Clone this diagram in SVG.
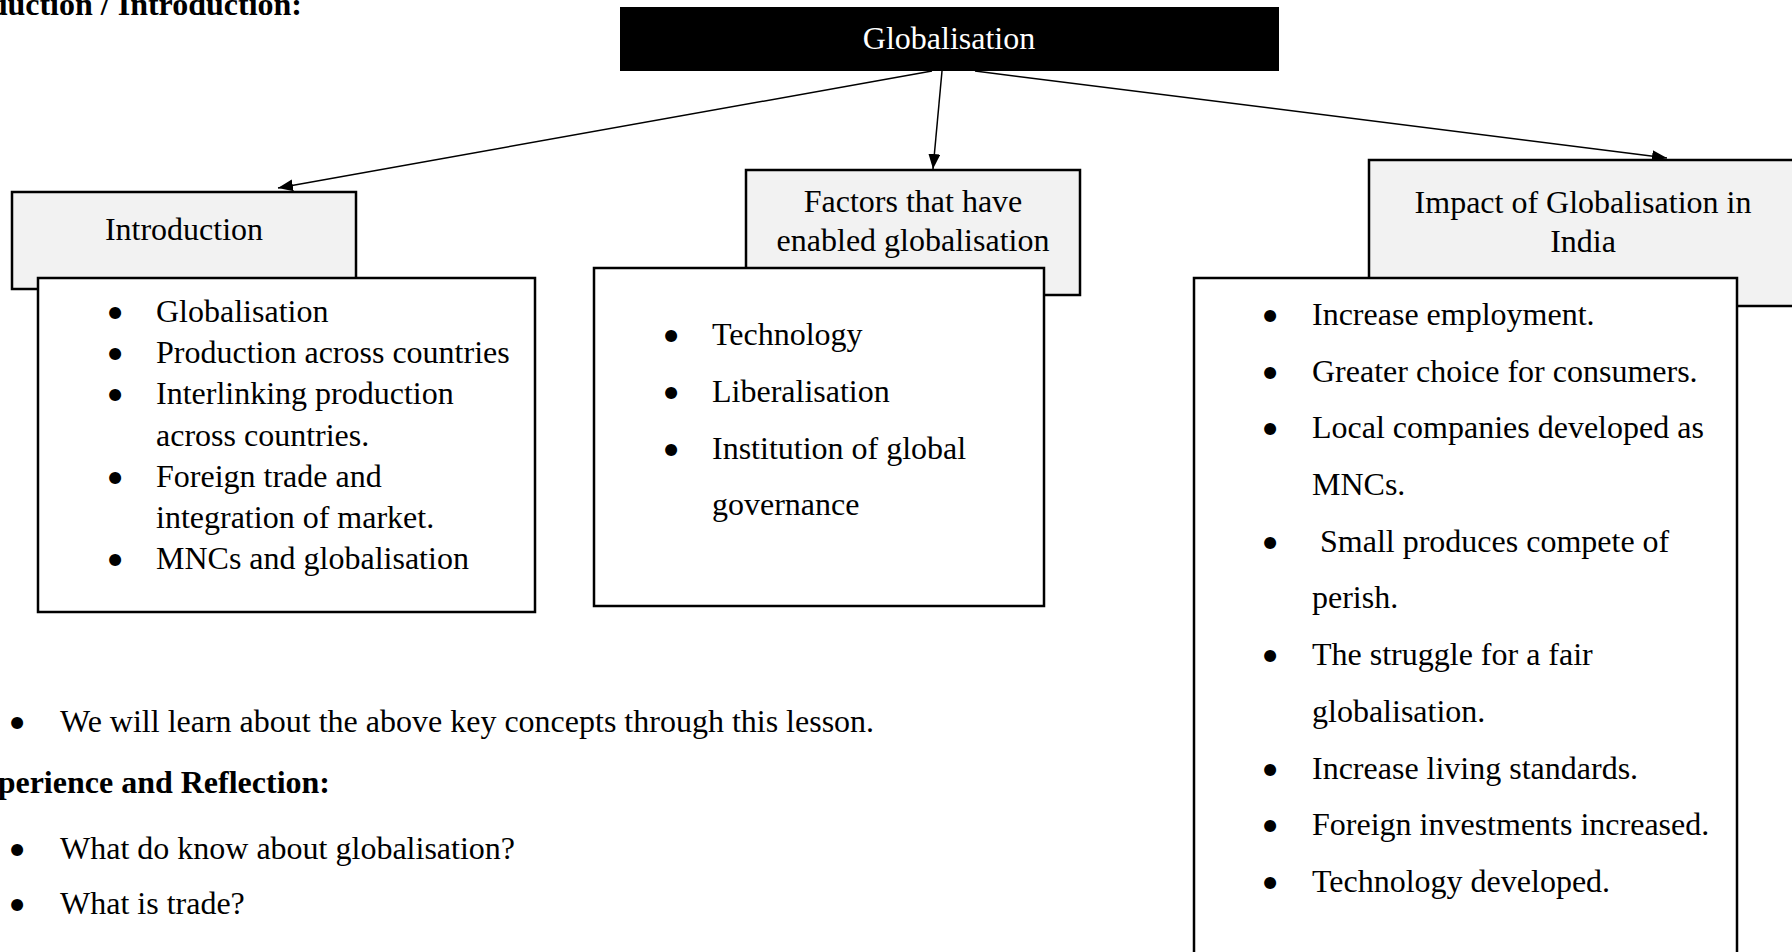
<svg xmlns="http://www.w3.org/2000/svg" width="1792" height="952" viewBox="0 0 1792 952">
<style>
.t{font-family:"Liberation Serif","Times New Roman",serif;font-size:32px;fill:#000}
.tb{font-family:"Liberation Serif","Times New Roman",serif;font-size:32px;font-weight:bold;fill:#000}
.m{text-anchor:middle}
.b{font-family:"DejaVu Sans",sans-serif;font-size:34px;font-weight:bold;text-anchor:middle;fill:#000}
.hd{fill:#f2f2f2;stroke:#000;stroke-width:2.5}
.bx{fill:#fff;stroke:#000;stroke-width:2.5}
.c{stroke:#000;stroke-width:1.5;fill:none;marker-end:url(#ah)}
</style>
<defs>
<marker id="ah" viewBox="0 0 15 12" refX="15" refY="6" markerWidth="15" markerHeight="12" markerUnits="userSpaceOnUse" orient="auto">
<path d="M0,0 L15,6 L0,12 z" fill="#000"/>
</marker>
</defs>
<rect width="1792" height="952" fill="#fff"/>
<g id="page-text">
<text class="tb" x="302" y="15" text-anchor="end">duction / Introduction:</text>
<text class="b" x="17" y="736">•</text>
<text class="t" x="60" y="732">We will learn about the above key concepts through this lesson.</text>
<text class="tb" x="330" y="793" text-anchor="end">perience and Reflection:</text>
<text class="b" x="17" y="863">•</text>
<text class="t" x="60" y="859">What do know about globalisation?</text>
<text class="b" x="17" y="918">•</text>
<text class="t" x="60" y="914">What is trade?</text>
</g>
<g id="connectors">
<line class="c" x1="932" y1="71" x2="278" y2="188"/>
<line class="c" x1="942" y1="71" x2="933" y2="169"/>
<line class="c" x1="975" y1="71" x2="1667" y2="158"/>
</g>
<g id="globalisation">
<rect x="620" y="7" width="659" height="64" fill="#000"/>
<text class="t m" x="949" y="49" style="fill:#fff">Globalisation</text>
</g>
<g id="introduction">
<rect class="hd" x="12" y="192" width="344" height="97"/>
<text class="t m" x="184" y="240">Introduction</text>
<rect class="bx" x="38" y="278" width="497" height="334"/>
<text class="b" x="115" y="326">•</text>
<text class="t" x="156" y="322">Globalisation</text>
<text class="b" x="115" y="367">•</text>
<text class="t" x="156" y="363">Production across countries</text>
<text class="b" x="115" y="408">•</text>
<text class="t" x="156" y="404">Interlinking production</text>
<text class="t" x="156" y="446">across countries.</text>
<text class="b" x="115" y="491">•</text>
<text class="t" x="156" y="487">Foreign trade and</text>
<text class="t" x="156" y="528">integration of market.</text>
<text class="b" x="115" y="573">•</text>
<text class="t" x="156" y="569">MNCs and globalisation</text>
</g>
<g id="factors">
<rect class="hd" x="746" y="170" width="334" height="125"/>
<text class="t m" x="913" y="212">Factors that have</text>
<text class="t m" x="913" y="251">enabled globalisation</text>
<rect class="bx" x="594" y="268" width="450" height="338"/>
<text class="b" x="671" y="349">•</text>
<text class="t" x="712" y="345">Technology</text>
<text class="b" x="671" y="406">•</text>
<text class="t" x="712" y="402">Liberalisation</text>
<text class="b" x="671" y="463">•</text>
<text class="t" x="712" y="459">Institution of global</text>
<text class="t" x="712" y="515">governance</text>
</g>
<g id="impact">
<rect class="hd" x="1369" y="160" width="500" height="146"/>
<text class="t m" x="1583" y="213">Impact of Globalisation in</text>
<text class="t m" x="1583" y="252">India</text>
<rect class="bx" x="1194" y="278" width="543" height="720"/>
<text class="b" x="1270" y="329">•</text>
<text class="t" x="1312" y="325">Increase employment.</text>
<text class="b" x="1270" y="386">•</text>
<text class="t" x="1312" y="382">Greater choice for consumers.</text>
<text class="b" x="1270" y="442">•</text>
<text class="t" x="1312" y="438">Local companies developed as</text>
<text class="t" x="1312" y="495">MNCs.</text>
<text class="b" x="1270" y="556">•</text>
<text class="t" x="1320" y="552">Small produces compete of</text>
<text class="t" x="1312" y="608">perish.</text>
<text class="b" x="1270" y="669">•</text>
<text class="t" x="1312" y="665">The struggle for a fair</text>
<text class="t" x="1312" y="722">globalisation.</text>
<text class="b" x="1270" y="783">•</text>
<text class="t" x="1312" y="779">Increase living standards.</text>
<text class="b" x="1270" y="839">•</text>
<text class="t" x="1312" y="835">Foreign investments increased.</text>
<text class="b" x="1270" y="896">•</text>
<text class="t" x="1312" y="892">Technology developed.</text>
</g>
</svg>
